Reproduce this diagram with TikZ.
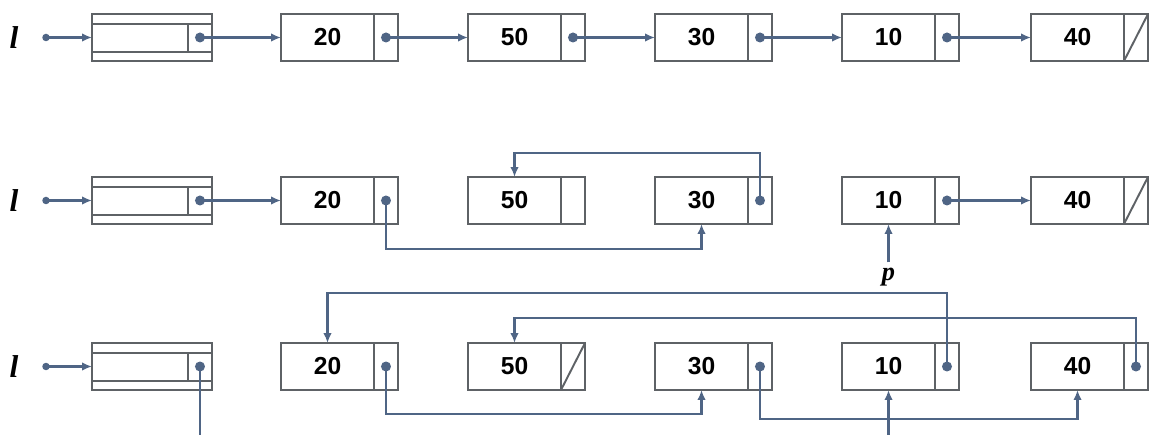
\documentclass[tikz,border=0pt]{standalone}
\usepackage{fontspec}
\setmainfont{Liberation Serif}
\setsansfont{Liberation Sans}
\usetikzlibrary{positioning,arrows.meta}

\definecolor{linkblue}{HTML}{4F6585}
\definecolor{boxgray}{HTML}{5E6266}

\begin{document}
\begin{tikzpicture}[x=0.02cm,y=-0.02cm]
    \tikzset{boxline/.style={draw=boxgray,line width=1.1pt}}
    \tikzset{valbox/.style={boxline,outer sep=0pt,inner sep=0pt,minimum width=1.86cm,minimum height=0.94cm,
        font=\sffamily\bfseries\fontsize{14}{14}\selectfont}}
    \tikzset{ptrbox/.style={boxline,outer sep=0pt,inner sep=0pt,minimum width=0.48cm,minimum height=0.94cm}}
    \tikzset{headbox/.style={boxline,outer sep=0pt,inner sep=0pt,minimum width=2.4cm,minimum height=0.94cm}}
    \tikzset{varname/.style={inner sep=1pt,font=\bfseries\itshape\fontsize{#1}{#1}\selectfont}}
    \tikzset{link/.style={draw=linkblue,line width=1.5pt,-{Latex[length=0.2cm,width=0.17cm]}}}

    \useasboundingbox (0,0) rectangle (1149,435);
    \fill[white] (0,0) rectangle (1149,435);

    % head cells and the variable l, one per row
    \foreach \r/\y in {1/37.5, 2/200.5, 3/366.5} {
        \node[varname=18] (l\r) at (14,\y) {l};
        \coordinate (ld\r) at (46,\y);
        \node[headbox] (h\r) at (152,\y) {};
        \draw[boxline] ([yshift=-0.2cm]h\r.north west) -- ([yshift=-0.2cm]h\r.north east);
        \draw[boxline] ([yshift=0.18cm]h\r.south west) -- ([yshift=0.18cm]h\r.south east);
        \draw[boxline] ([xshift=-0.48cm,yshift=-0.2cm]h\r.north east) -- ([xshift=-0.48cm,yshift=0.18cm]h\r.south east);
        \coordinate (h\r p) at ([xshift=-0.24cm]h\r.east);
        \fill[linkblue] (ld\r) circle (0.075cm);
        \fill[linkblue] (h\r p) circle (0.1cm);
        \draw[link] (ld\r) -- (h\r);
    }

    % row 1
    \node[valbox] (a20) at (327.5,37.5) {20};
    \node[ptrbox,right=0pt of a20] (a20p) {};
    \node[valbox] (a50) at (514.5,37.5) {50};
    \node[ptrbox,right=0pt of a50] (a50p) {};
    \node[valbox] (a30) at (701.5,37.5) {30};
    \node[ptrbox,right=0pt of a30] (a30p) {};
    \node[valbox] (a10) at (888.5,37.5) {10};
    \node[ptrbox,right=0pt of a10] (a10p) {};
    \node[valbox] (a40) at (1077.5,37.5) {40};
    \node[ptrbox,right=0pt of a40] (a40p) {};
    \draw[boxline] (a40p.south west) -- (a40p.north east);

    % row 2
    \node[valbox] (b20) at (327.5,200.5) {20};
    \node[ptrbox,right=0pt of b20] (b20p) {};
    \node[valbox] (b50) at (514.5,200.5) {50};
    \node[ptrbox,right=0pt of b50] (b50p) {};
    \node[valbox] (b30) at (701.5,200.5) {30};
    \node[ptrbox,right=0pt of b30] (b30p) {};
    \node[valbox] (b10) at (888.5,200.5) {10};
    \node[ptrbox,right=0pt of b10] (b10p) {};
    \node[valbox] (b40) at (1077.5,200.5) {40};
    \node[ptrbox,right=0pt of b40] (b40p) {};
    \draw[boxline] (b40p.south west) -- (b40p.north east);
    \node[varname=15,inner sep=3pt] (pv) at (888.5,277) {p};

    % row 3
    \node[valbox] (c20) at (327.5,366.5) {20};
    \node[ptrbox,right=0pt of c20] (c20p) {};
    \node[valbox] (c50) at (514.5,366.5) {50};
    \node[ptrbox,right=0pt of c50] (c50p) {};
    \draw[boxline] (c50p.south west) -- (c50p.north east);
    \node[valbox] (c30) at (701.5,366.5) {30};
    \node[ptrbox,right=0pt of c30] (c30p) {};
    \node[valbox] (c10) at (888.5,366.5) {10};
    \node[ptrbox,right=0pt of c10] (c10p) {};
    \node[valbox] (c40) at (1077.5,366.5) {40};
    \node[ptrbox,right=0pt of c40] (c40p) {};

    \foreach \n in {a20p,a50p,a30p,a10p,b20p,b30p,b10p,c20p,c30p,c10p,c40p}
        \fill[linkblue] (\n.center) circle (0.1cm);

    % links
    \draw[link] (h1p) -- (a20);
    \draw[link] (a20p.center) -- (a50);
    \draw[link] (a50p.center) -- (a30);
    \draw[link] (a30p.center) -- (a10);
    \draw[link] (a10p.center) -- (a40);

    \draw[link] (h2p) -- (b20);
    \draw[link] (b20p.center) -- ++(0,48.5) -| (b30.south);
    \draw[link] (b30p.center) -- ++(0,-47.5) -| (b50.north);
    \draw[link] (b10p.center) -- (b40);
    \draw[link] (pv) -- (b10.south);

    \draw[link] (c20p.center) -- ++(0,47.5) -| (c30.south);
    \draw[link] (c30p.center) -- ++(0,52.5) -| (c40.south);
    \draw[link] (c10p.center) -- ++(0,-73.5) -| (c20.north);
    \draw[link] (c40p.center) -- ++(0,-48.5) -| (c50.north);
    \begin{scope}
        \clip (0,0) rectangle (1149,435);
        \draw[link] (h3p) -- ++(0,85) -| (c10.south);
    \end{scope}
\end{tikzpicture}
\end{document}
